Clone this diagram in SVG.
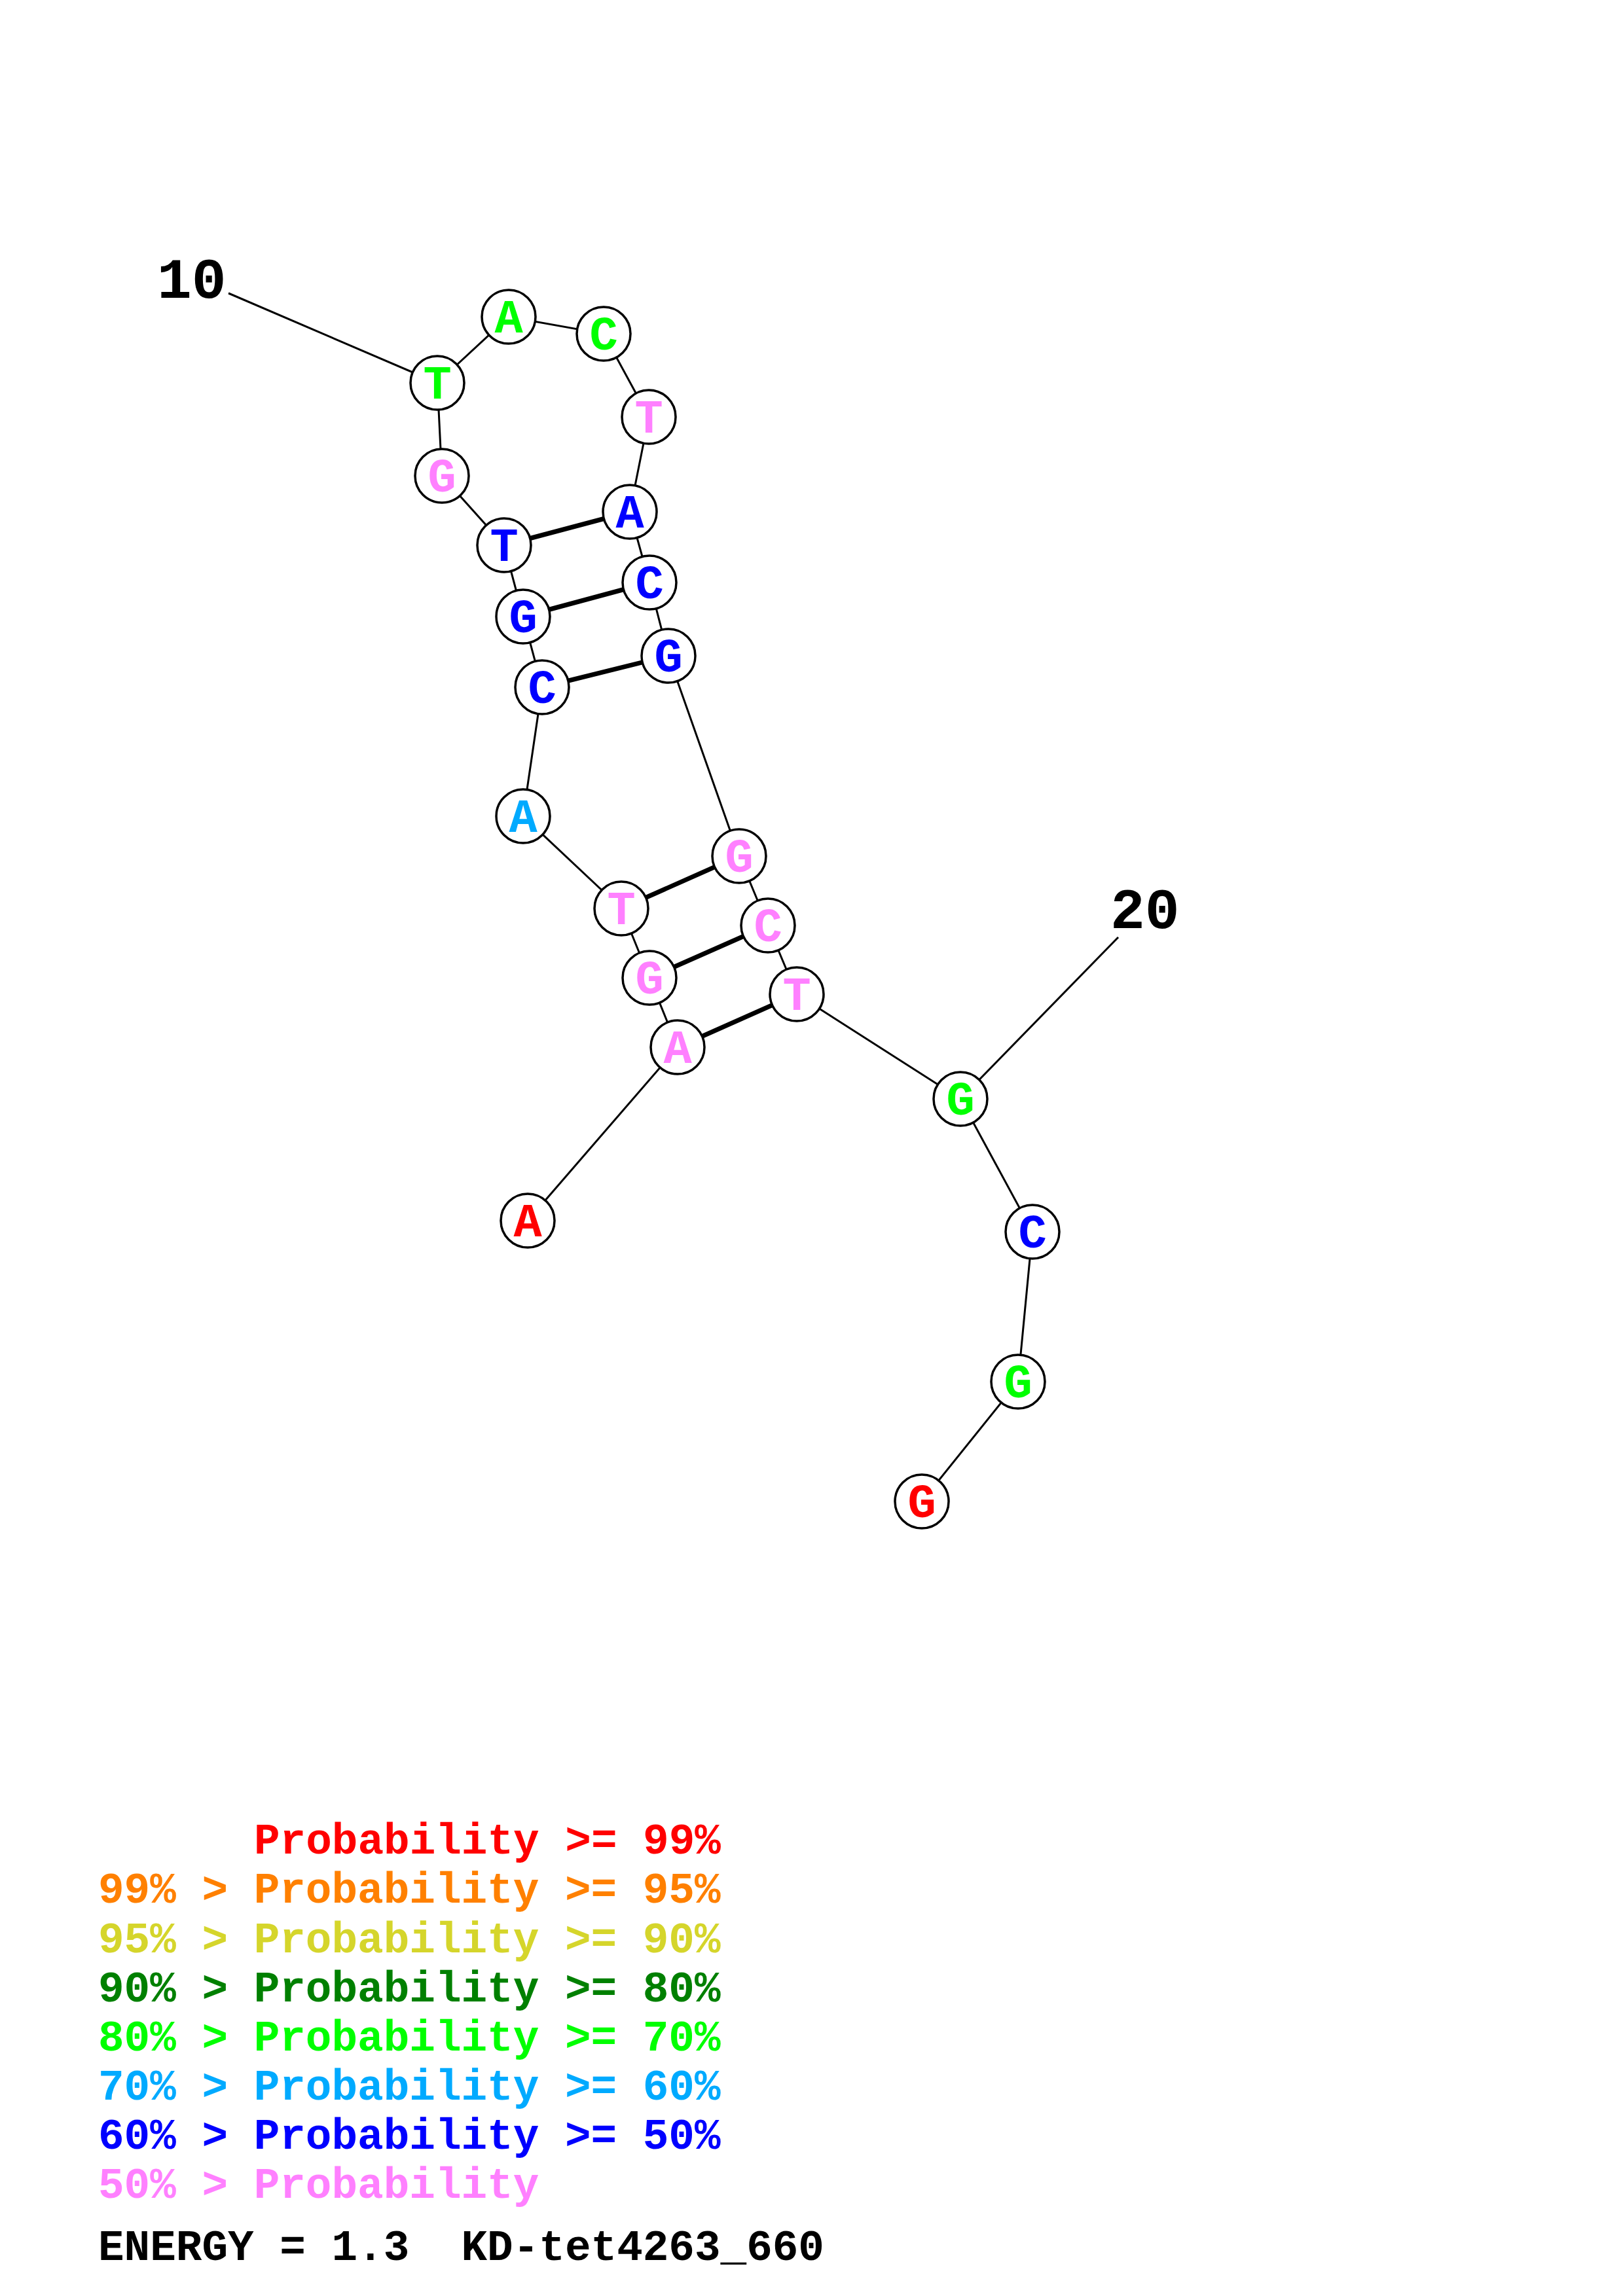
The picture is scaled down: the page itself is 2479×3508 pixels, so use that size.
<svg xmlns="http://www.w3.org/2000/svg" width="2479" height="3508" viewBox="0 0 2479 3508">
<style>
.bb{stroke:#000;stroke-width:3;fill:none}
.bp{stroke:#000;stroke-width:7;fill:none}
.nc{fill:#fff;stroke:#000;stroke-width:3.5}
.nt{font-family:"Liberation Mono","DejaVu Sans Mono",monospace;font-weight:bold;font-size:72px;text-anchor:middle}
.lb{font-family:"Liberation Mono","DejaVu Sans Mono",monospace;font-weight:bold;font-size:88px;fill:#000}
.lg{font-family:"Liberation Mono","DejaVu Sans Mono",monospace;font-weight:bold;font-size:66px;white-space:pre}
.r{fill:#FF0000}.o{fill:#FF8000}.y{fill:#D5D52B}.dg{fill:#008000}.g{fill:#00FF00}.c{fill:#00AAFF}.b{fill:#0000FF}.p{fill:#FF80FF}
</style>
<rect width="2479" height="3508" fill="#fff"/>
<g id="connectors">
<polyline class="bb" points="806,1865 1035,1600 992,1494 949,1388 799,1247 828,1050 799,942 770,833 675,727 668,585 777,484 922,510 991,637 962,782 992,890 1021,1002 1129,1308 1173,1414 1217,1519 1467,1679 1577,1882 1555,2111 1408,2294"/>
<line class="bb" x1="349" y1="448" x2="668" y2="585"/>
<line class="bb" x1="1708" y1="1432" x2="1467" y2="1679"/>
<line class="bp" x1="770" y1="833" x2="962" y2="782"/>
<line class="bp" x1="799" y1="942" x2="992" y2="890"/>
<line class="bp" x1="828" y1="1050" x2="1021" y2="1002"/>
<line class="bp" x1="949" y1="1388" x2="1129" y2="1308"/>
<line class="bp" x1="992" y1="1494" x2="1173" y2="1414"/>
<line class="bp" x1="1035" y1="1600" x2="1217" y2="1519"/>
</g>
<g id="n1"><circle class="nc" cx="806" cy="1865" r="41"/><text class="nt r" x="806" y="1889">A</text></g>
<g id="n2"><circle class="nc" cx="1035" cy="1600" r="41"/><text class="nt p" x="1035" y="1624">A</text></g>
<g id="n3"><circle class="nc" cx="992" cy="1494" r="41"/><text class="nt p" x="992" y="1518">G</text></g>
<g id="n4"><circle class="nc" cx="949" cy="1388" r="41"/><text class="nt p" x="949" y="1412">T</text></g>
<g id="n5"><circle class="nc" cx="799" cy="1247" r="41"/><text class="nt c" x="799" y="1271">A</text></g>
<g id="n6"><circle class="nc" cx="828" cy="1050" r="41"/><text class="nt b" x="828" y="1074">C</text></g>
<g id="n7"><circle class="nc" cx="799" cy="942" r="41"/><text class="nt b" x="799" y="966">G</text></g>
<g id="n8"><circle class="nc" cx="770" cy="833" r="41"/><text class="nt b" x="770" y="857">T</text></g>
<g id="n9"><circle class="nc" cx="675" cy="727" r="41"/><text class="nt p" x="675" y="751">G</text></g>
<g id="n10"><circle class="nc" cx="668" cy="585" r="41"/><text class="nt g" x="668" y="609">T</text></g>
<g id="n11"><circle class="nc" cx="777" cy="484" r="41"/><text class="nt g" x="777" y="508">A</text></g>
<g id="n12"><circle class="nc" cx="922" cy="510" r="41"/><text class="nt g" x="922" y="534">C</text></g>
<g id="n13"><circle class="nc" cx="991" cy="637" r="41"/><text class="nt p" x="991" y="661">T</text></g>
<g id="n14"><circle class="nc" cx="962" cy="782" r="41"/><text class="nt b" x="962" y="806">A</text></g>
<g id="n15"><circle class="nc" cx="992" cy="890" r="41"/><text class="nt b" x="992" y="914">C</text></g>
<g id="n16"><circle class="nc" cx="1021" cy="1002" r="41"/><text class="nt b" x="1021" y="1026">G</text></g>
<g id="n17"><circle class="nc" cx="1129" cy="1308" r="41"/><text class="nt p" x="1129" y="1332">G</text></g>
<g id="n18"><circle class="nc" cx="1173" cy="1414" r="41"/><text class="nt p" x="1173" y="1438">C</text></g>
<g id="n19"><circle class="nc" cx="1217" cy="1519" r="41"/><text class="nt p" x="1217" y="1543">T</text></g>
<g id="n20"><circle class="nc" cx="1467" cy="1679" r="41"/><text class="nt g" x="1467" y="1703">G</text></g>
<g id="n21"><circle class="nc" cx="1577" cy="1882" r="41"/><text class="nt b" x="1577" y="1906">C</text></g>
<g id="n22"><circle class="nc" cx="1555" cy="2111" r="41"/><text class="nt g" x="1555" y="2135">G</text></g>
<g id="n23"><circle class="nc" cx="1408" cy="2294" r="41"/><text class="nt r" x="1408" y="2318">G</text></g>
<g id="labels">
<text class="lb" x="240" y="455">10</text>
<text class="lb" x="1696" y="1418">20</text>
</g>
<g id="legend">
<text class="lg r" x="388" y="2832">Probability &gt;= 99%</text>
<text class="lg o" x="150" y="2907">99% &gt; Probability &gt;= 95%</text>
<text class="lg y" x="150" y="2983">95% &gt; Probability &gt;= 90%</text>
<text class="lg dg" x="150" y="3058">90% &gt; Probability &gt;= 80%</text>
<text class="lg g" x="150" y="3133">80% &gt; Probability &gt;= 70%</text>
<text class="lg c" x="150" y="3208">70% &gt; Probability &gt;= 60%</text>
<text class="lg b" x="150" y="3283">60% &gt; Probability &gt;= 50%</text>
<text class="lg p" x="150" y="3358">50% &gt; Probability</text>
<text class="lg" x="150" y="3453" fill="#000">ENERGY = 1.3  KD-tet4263_660</text>
</g>
</svg>
